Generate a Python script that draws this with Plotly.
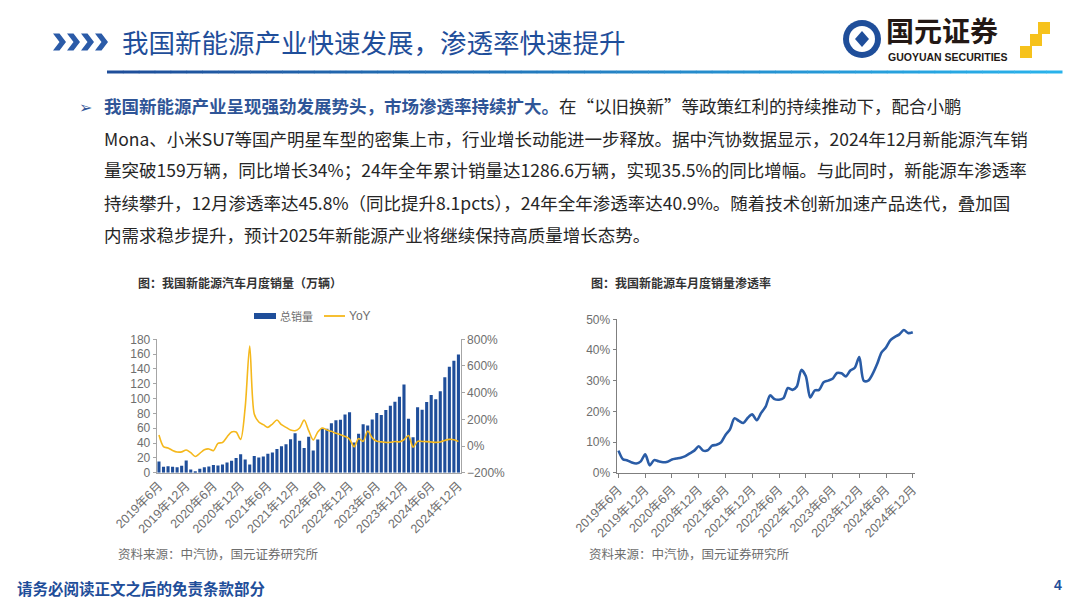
import plotly.graph_objects as go

# ---------------- data ----------------
months = [f"{y}年{m}月" for y in range(2019, 2025) for m in range(1, 13)][5:]  # 2019-06 .. 2024-12
tick_idx = list(range(0, 67, 6))
tick_text = [months[i] for i in tick_idx]

sales = [15.0, 8.0, 8.8, 8.0, 7.5, 9.5, 16.3,
         4.4, 1.3, 5.3, 7.2, 8.2, 10.4, 9.8, 10.9, 13.8, 16.0, 20.0, 24.8,
         17.9, 11.0, 22.6, 20.6, 21.7, 25.6, 27.1, 32.1, 35.7, 38.3, 45.0, 53.1,
         43.1, 33.4, 48.4, 29.9, 44.7, 59.6, 59.3, 66.6, 70.8, 71.4, 78.6, 81.4,
         40.8, 52.5, 65.3, 63.6, 71.7, 80.6, 78.0, 84.6, 90.4, 95.6, 102.6, 119.1,
         72.9, 47.7, 88.3, 85.0, 95.5, 104.9, 99.1, 110.0, 128.7, 143.0, 151.2, 159.5]

yoy = [82, -5, -15, -33, -45, -44, -30,
       -50, -78, -55, -28, -22, -35, 20, 26, 68, 105, 105, 50,
       290, 750, 240, 180, 160, 140, 165, 195, 160, 140, 120, 115,
       135, 195, 115, 45, 105, 135, 120, 110, 95, 85, 72, 52,
       -6, 56, 35, 113, 61, 35, 31, 27, 28, 34, 31, 47,
       79, -9, 35, 34, 33, 30, 27, 30, 42, 50, 47, 34]

penetration = [7.2, 4.4, 4.0, 3.3, 3.0, 3.7, 6.0,
               2.4, 4.1, 3.7, 3.4, 3.6, 4.3, 4.6, 4.9, 5.4, 6.3, 7.2, 8.6,
               7.2, 7.3, 8.8, 9.1, 9.9, 12.3, 14.1, 17.7, 16.9, 16.2, 17.9, 19.0,
               17.1, 19.5, 21.5, 25.2, 24.0, 23.8, 24.3, 27.6, 27.0, 28.1, 33.5, 31.5,
               24.5, 26.8, 27.0, 29.5, 30.0, 30.6, 32.5, 32.4, 31.4, 33.3, 34.2, 37.7,
               30.0, 30.0, 32.2, 35.4, 39.2, 40.8, 43.2, 44.3, 45.1, 46.5, 45.5, 45.8]
penetration = [v / 100 for v in penetration]

xi = list(range(len(months)))

W, H = 1080, 608
def PX(x): return x / W
def PY(y): return 1 - y / H

GRAY = "#6E6E6E"
AX = "#A6A6A6"
TFONT = "Liberation Sans, Arial, Noto Sans CJK SC, sans-serif"
CJK = "Noto Sans CJK SC, sans-serif"

fig = go.Figure()
fig.add_trace(go.Bar(x=xi, y=sales, name="总销量", marker=dict(color="#1F4E9A", line=dict(width=0)),
                     xaxis="x", yaxis="y", showlegend=False, customdata=months,
                     hovertemplate="%{customdata}: %{y}<extra></extra>"))
fig.add_trace(go.Scatter(x=xi, y=yoy, name="YoY", mode="lines",
                         line=dict(color="#F5B81C", width=1.6, shape="spline", smoothing=0.8),
                         xaxis="x", yaxis="y2", showlegend=False))
fig.add_trace(go.Scatter(x=xi, y=penetration, name="渗透率", mode="lines",
                         line=dict(color="#2A5CA6", width=2.6, shape="spline", smoothing=0.8),
                         xaxis="x3", yaxis="y3", showlegend=False))

tickfont = dict(family=TFONT, size=12, color=GRAY)
xtickfont = dict(family=TFONT, size=12.5, color=GRAY)

ydom = [1 - 472.7 / H, 1 - 339.3 / H]
ydom3 = [1 - 472.7 / H, 1 - 319.3 / H]

fig.update_layout(
    template="none",
    width=W, height=H, margin=dict(l=0, r=0, t=0, b=0, pad=0), autosize=False,
    paper_bgcolor="white", plot_bgcolor="rgba(0,0,0,0)",
    showlegend=False,
    bargap=0.32,
    xaxis=dict(domain=[PX(156.7), PX(460.7)], range=[-0.5, 66.5], tickvals=tick_idx, ticktext=tick_text,
               tickangle=-45, tickfont=xtickfont, showline=True, linecolor=AX, linewidth=1,
               showgrid=False, zeroline=False, ticks="", anchor="y", automargin=False),
    yaxis=dict(domain=ydom, range=[0, 180], dtick=20, tickfont=tickfont, showline=True, linecolor=AX,
               showgrid=False, zeroline=False, ticks="outside", ticklen=3, tickcolor=AX, anchor="x",
               automargin=False),
    yaxis2=dict(domain=ydom, range=[-200, 800], dtick=200, ticksuffix="%", side="right", overlaying="y",
                tickfont=tickfont, showline=True, linecolor=AX, showgrid=False, zeroline=False,
                ticks="outside", ticklen=3, tickcolor=AX, anchor="x", automargin=False),
    xaxis3=dict(domain=[PX(616.7), PX(915)], range=[-0.4, 66.5], tickvals=tick_idx, ticktext=tick_text,
                tickangle=-45, tickfont=xtickfont, showline=True, linecolor="#7F7F7F", linewidth=1.2,
                showgrid=False, zeroline=False, ticks="outside", ticklen=4, tickcolor="#7F7F7F",
                anchor="y3", automargin=False),
    yaxis3=dict(domain=ydom3, range=[0, 0.5], dtick=0.1, tickformat=".0%", tickfont=tickfont,
                showline=True, linecolor="#7F7F7F", linewidth=1.2, showgrid=False, zeroline=False,
                ticks="outside", ticklen=3, tickcolor="#7F7F7F", anchor="x3", automargin=False),
)

shapes = []
annos = []

# chevrons
for k in range(4):
    x0 = 53 + k * 14
    yc = 42
    path = (f"M {PX(x0)} {PY(yc-8.5)} L {PX(x0+6.5)} {PY(yc-8.5)} L {PX(x0+13)} {PY(yc)} "
            f"L {PX(x0+6.5)} {PY(yc+8.5)} L {PX(x0)} {PY(yc+8.5)} L {PX(x0+6.5)} {PY(yc)} Z")
    shapes.append(dict(type="path", xref="paper", yref="paper", path=path,
                       fillcolor="#2B5BA8", line=dict(width=0)))

# gradient header rule
n = 60
x_start, x_end = 107, 1062
c0, c1 = (31, 78, 154), (41, 178, 235)
for k in range(n):
    t = k / (n - 1)
    c = tuple(int(c0[j] + (c1[j] - c0[j]) * t) for j in range(3))
    xa = x_start + (x_end - x_start) * k / n
    xb = x_start + (x_end - x_start) * (k + 1) / n + 0.5
    shapes.append(dict(type="rect", xref="paper", yref="paper", x0=PX(xa), x1=PX(xb),
                       y0=PY(73.5), y1=PY(70.5), fillcolor=f"rgb{c}", line=dict(width=0)))

# logo circle
cx, cy, r = 862, 39, 19
shapes.append(dict(type="circle", xref="paper", yref="paper", x0=PX(cx-r), x1=PX(cx+r),
                   y0=PY(cy+r), y1=PY(cy-r), fillcolor="#1F4E9A", line=dict(width=0)))
r2 = 13
shapes.append(dict(type="circle", xref="paper", yref="paper", x0=PX(cx-r2), x1=PX(cx+r2),
                   y0=PY(cy+r2), y1=PY(cy-r2), fillcolor="white", line=dict(width=0)))
dpath = (f"M {PX(cx)} {PY(cy-8)} L {PX(cx+7)} {PY(cy)} L {PX(cx)} {PY(cy+8)} L {PX(cx-7)} {PY(cy)} Z")
shapes.append(dict(type="path", xref="paper", yref="paper", path=dpath, fillcolor="#1F4E9A", line=dict(width=0)))
# yellow squares
for (sx, sy) in [(1044, 28), (1036, 40), (1026, 52)]:
    shapes.append(dict(type="rect", xref="paper", yref="paper", x0=PX(sx-6), x1=PX(sx+6),
                       y0=PY(sy+6), y1=PY(sy-6), fillcolor="#F6C21C", line=dict(width=0)))

# legend (left chart)
shapes.append(dict(type="rect", xref="paper", yref="paper", x0=PX(254), x1=PX(276),
                   y0=PY(319), y1=PY(313), fillcolor="#1F4E9A", line=dict(width=0)))
shapes.append(dict(type="line", xref="paper", yref="paper", x0=PX(324), x1=PX(345),
                   y0=PY(316), y1=PY(316), line=dict(color="#F5B81C", width=1.8)))

def txt(s, x, y, size, color, family=CJK, anchor="left"):
    annos.append(dict(text=s, x=PX(x), y=PY(y), xref="paper", yref="paper", xanchor=anchor,
                      yanchor="middle", showarrow=False, borderpad=0,
                      font=dict(family=family, size=size, color=color)))

txt("总销量", 279, 316, 11, GRAY)
txt("YoY", 348, 316, 12, GRAY, family=TFONT)

txt("我国新能源产业快速发展，渗透率快速提升", 121, 42, 26.5, "#1F4E9A")
txt("<b>国元证券</b>", 885, 29.5, 28, "#231815")
txt("<b>GUOYUAN SECURITIES</b>", 887, 57, 10.5, "#231815", family="Liberation Sans, Arial, sans-serif")

txt("➢", 78, 106, 16, "#2F5597")
body_color = "#262626"
lines = [
    "<span style='color:#2F5597'><b>我国新能源产业呈现强劲发展势头，市场渗透率持续扩大。</b></span>在“以旧换新”等政策红利的持续推动下，配合小鹏",
    "Mona、小米SU7等国产明星车型的密集上市，行业增长动能进一步释放。据中汽协数据显示，2024年12月新能源汽车销",
    "量突破159万辆，同比增长34%；24年全年累计销量达1286.6万辆，实现35.5%的同比增幅。与此同时，新能源车渗透率",
    "持续攀升，12月渗透率达45.8%（同比提升8.1pcts），24年全年渗透率达40.9%。随着技术创新加速产品迭代，叠加国",
    "内需求稳步提升，预计2025年新能源产业将继续保持高质量增长态势。",
]
for k, s in enumerate(lines):
    txt(s, 103, 106 + 32 * k, 17.5, body_color)

txt("<b>图：我国新能源汽车月度销量（万辆）</b>", 137, 282, 12, "#333333")
txt("<b>图：我国新能源车月度销量渗透率</b>", 590, 282, 12, "#333333")
txt("资料来源：中汽协，国元证券研究所", 117, 553, 12.5, GRAY)
txt("资料来源：中汽协，国元证券研究所", 588, 553, 12.5, GRAY)
txt("<b>请务必阅读正文之后的免责条款部分</b>", 16, 588, 15.5, "#1F4E9A")
txt("<b>4</b>", 1063, 585, 14, "#1F4E9A", family=TFONT, anchor="right")

fig.update_layout(shapes=shapes, annotations=annos)
fig.write_html("out.html", config={"displayModeBar": False},
               post_script="document.body.style.margin='0';document.body.style.overflow='hidden';")
